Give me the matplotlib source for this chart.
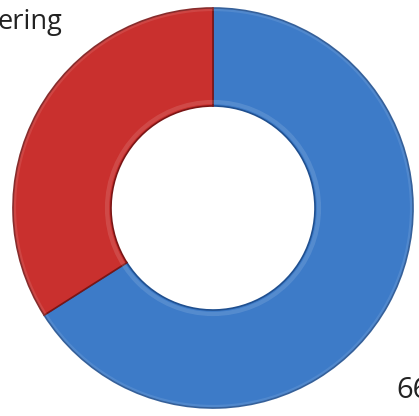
import matplotlib.pyplot as plt
import numpy as np

# ── Data ──────────────────────────────────────────────────────────────────────
labels = ["Other", "Engineering"]
values = [66, 34]
colors = ["#3d7bc8", "#c9302e"]
edge_colors = ["#1f4f8f", "#7a1515"]
value_label = "66%"
cat_label = "ering"

# ── Figure ────────────────────────────────────────────────────────────────────
W, H = 419, 416
fig = plt.figure(figsize=(W / 100, H / 100), dpi=100)
ax = fig.add_axes([0, 0, 1, 1])

cx, cy, r = 213, H - 208, 200
wedges, _ = ax.pie(values, colors=colors, startangle=90, counterclock=False,
                   center=(cx, cy), radius=r, frame=True,
                   wedgeprops=dict(width=r * 0.49, linewidth=1.2))
for w, ec in zip(wedges, edge_colors):
    w.set_edgecolor(ec)

# soft highlight rings to hint at the bevelled look
for frac, a in [(0.995, 0.10), (0.53, 0.12)]:
    ax.add_patch(plt.Circle((cx, cy), r * frac, fill=False,
                            edgecolor="white", linewidth=3, alpha=a))

ax.set_xlim(0, W)
ax.set_ylim(0, H)
ax.set_aspect("equal")
ax.axis("off")

ax.text(-3, H - 22, cat_label, ha="left", va="center",
        fontsize=19.5, color="#222222", family="Open Sans")
ax.text(396, H - 391, value_label, ha="left", va="center",
        fontsize=21, color="#222222", family="Open Sans")

plt.savefig("out.png", dpi=100)
